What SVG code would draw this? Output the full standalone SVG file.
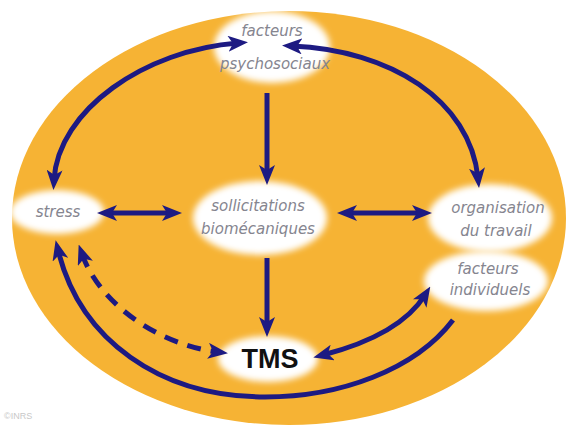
<svg xmlns="http://www.w3.org/2000/svg" width="575" height="427" viewBox="0 0 575 427">
<style>
.node{fill:#ffffff;filter:url(#soft)}
.lbl{font-family:"DejaVu Sans",sans-serif;font-style:italic;font-size:15px;fill:#85858f;text-anchor:middle;dominant-baseline:central}
.tms{font-family:"Liberation Sans",Arial,sans-serif;font-weight:bold;font-size:27px;fill:#111;text-anchor:middle;dominant-baseline:central}
.arr{fill:none;stroke:#1d1a82;stroke-width:5}
.dash{stroke-dasharray:14 10}
</style>
<defs>
<filter id="soft" x="-20%" y="-30%" width="140%" height="160%"><feGaussianBlur stdDeviation="3"/></filter>
<marker id="ah" viewBox="0 0 20 16" refX="10" refY="8" markerWidth="20" markerHeight="16" markerUnits="userSpaceOnUse" orient="auto-start-reverse">
<path d="M0,0 L20,8 L0,16 L5,8 z" fill="#1d1a82"/>
</marker>
</defs>
<rect width="575" height="427" fill="#ffffff"/>
<ellipse cx="289" cy="218" rx="277" ry="207" fill="#f6b334"/>
<g id="n-psycho"><ellipse class="node" cx="272" cy="47" rx="58" ry="36"/><text class="lbl" x="272" y="31">facteurs</text><text class="lbl" x="275" y="64">psychosociaux</text></g>
<g id="n-stress"><ellipse class="node" cx="57" cy="212" rx="47" ry="22"/><text class="lbl" x="58" y="212">stress</text></g>
<g id="n-soll"><ellipse class="node" cx="260" cy="218" rx="67" ry="37"/><text class="lbl" x="258" y="206">sollicitations</text><text class="lbl" x="258" y="229">biomécaniques</text></g>
<g id="n-org"><ellipse class="node" cx="490" cy="218" rx="62" ry="34"/><text class="lbl" x="498" y="208">organisation</text><text class="lbl" x="496" y="231">du travail</text></g>
<g id="n-indiv"><ellipse class="node" cx="486" cy="281" rx="62" ry="30"/><text class="lbl" x="488" y="269">facteurs</text><text class="lbl" x="490" y="290">individuels</text></g>
<g id="n-tms"><ellipse class="node" cx="268" cy="359" rx="50" ry="23"/><text class="tms" x="270" y="359">TMS</text></g>
<g id="connectors">
<path class="arr" d="M107,213 L172,213" marker-start="url(#ah)" marker-end="url(#ah)"/>
<path class="arr" d="M347,213 L422,213" marker-start="url(#ah)" marker-end="url(#ah)"/>
<path class="arr" d="M267,93 L267,175" marker-end="url(#ah)"/>
<path class="arr" d="M267,258 L267,327" marker-end="url(#ah)"/>
<path class="arr" d="M54,180 C58,110 145,50 238,43" marker-start="url(#ah)" marker-end="url(#ah)"/>
<path class="arr" d="M292,46 C390,50 470,100 478,178" marker-start="url(#ah)" marker-end="url(#ah)"/>
<path class="arr" d="M323,355 Q400,335 425,295" marker-start="url(#ah)" marker-end="url(#ah)"/>
<path class="arr" d="M453,320 C415,370 340,397 265,397 C160,397 80,340 58,250" marker-end="url(#ah)"/>
<path class="arr dash" d="M82,254 C100,305 160,345 218,352" marker-start="url(#ah)" marker-end="url(#ah)"/>
</g>
<text x="4" y="419" font-family="Liberation Sans,sans-serif" font-size="9" fill="#c8c8c8">©INRS</text>
</svg>
